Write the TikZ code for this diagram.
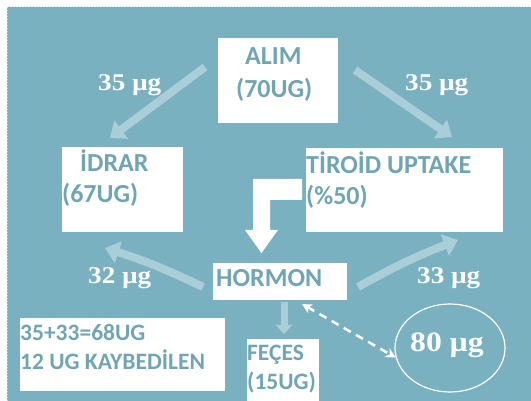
\documentclass[tikz,border=0pt]{standalone}
\usepackage{fontspec}
\setmainfont{Carlito}
\newfontfamily\labfont[FakeStretch=1.13]{Liberation Serif}
\usetikzlibrary{arrows.meta,shapes.geometric}
\definecolor{bg}{RGB}{122,177,192}
\definecolor{txt}{RGB}{112,165,180}
\definecolor{pale}{RGB}{170,206,216}
\definecolor{edge}{RGB}{200,222,228}
\begin{document}
\begin{tikzpicture}[x=1pt,y=-1pt,
  box/.style={fill=white, draw=none, inner sep=0pt, anchor=north west},
  btxt/.style={anchor=base west, inner sep=0pt, text=txt, font=\fontsize{26}{26}\selectfont\bfseries},
  stxt/.style={btxt, font=\fontsize{23.5}{23.5}\selectfont\bfseries},
  lab/.style={anchor=base west, inner sep=0pt, text=white, font=\labfont\fontsize{24}{24}\selectfont\bfseries},
  flow/.style={draw=pale, line width=8pt, -{Triangle[length=14pt,width=22pt]}},
  dashlink/.style={draw=white, line width=2.5pt, dash pattern=on 8pt off 6pt,
    {Stealth[length=10pt,width=10pt]}-{Stealth[length=10pt,width=10pt]}},
]
\useasboundingbox (0,0) rectangle (531,401);
\fill[bg] (7,7) rectangle (531,401);
\draw[edge, line width=1pt, dotted] (7,401) -- (7,7) -- (531,7);

% boxes
\node[box, minimum width=120pt, minimum height=85pt] (alim) at (218,38) {};
\node[box, minimum width=121pt, minimum height=85pt] (idrar) at (62,147) {};
\node[box, minimum width=197pt, minimum height=84pt] (tiroid) at (306,148) {};
\node[box, minimum width=134pt, minimum height=37pt] (hormon) at (213,263) {};
\node[box, minimum width=72pt, minimum height=62pt] (feces) at (247,339) {};
\node[box, minimum width=205pt, minimum height=73pt] (lost) at (20,318) {};
\node[ellipse, draw=white, line width=1.2pt, minimum width=110pt, minimum height=88pt, inner sep=0pt] (ell) at (450,348) {};

% box texts
\node[btxt] (t1) at (245,65) {ALIM};
\node[btxt] (t2) at (236,98) {(70UG)};
\node[btxt] (t3) at (80,172) {İDRAR};
\node[btxt] (t4) at (62,203) {(67UG)};
\node[btxt] (t5) at (306,174) {TİROİD UPTAKE};
\node[btxt] (t6) at (306,205) {(\%50)};
\node[btxt] (t7) at (216,287) {HORMON};
\node[stxt] (t8) at (20,341) {35+33=68UG};
\node[stxt] (t9) at (20,370) {12 UG KAYBEDİLEN};
\node[stxt] (t10) at (247,360) {FEÇES};
\node[stxt] (t11) at (247,389) {(15UG)};

% labels
\node[lab] (l1) at (98,91) {35 µg};
\node[lab] (l2) at (405,91) {35 µg};
\node[lab] (l3) at (88,284) {32 µg};
\node[lab] (l4) at (417,284) {33 µg};
\node[lab, font=\labfont\fontsize{28}{28}\selectfont\bfseries] (l5) at (410,352) {80 µg};

% flow arrows
\coordinate (a1s) at (205,67);  \coordinate (a1e) at (110,138);
\coordinate (a2s) at (355,70);  \coordinate (a2e) at (452,137);
\coordinate (a3s) at (203,287); \coordinate (a3e) at (105,248);
\coordinate (a4s) at (358,287); \coordinate (a4e) at (458,240);
\coordinate (fs) at (284,302);  \coordinate (fe) at (284,334);
\draw[flow] (a1s) -- (a1e);
\draw[flow] (a2s) -- (a2e);
\draw[flow] (a3s) to[bend right=4] (a3e);
\draw[flow] (a4s) to[bend left=4] (a4e);
\draw[draw=pale, line width=7pt, -{Triangle[length=9pt,width=16pt]}] (fs) -- (fe);

% bent white arrow
\fill[white] (302,179) -- (253,179) -- (253,230) -- (245,230) -- (261.5,253)
  -- (278,230) -- (270,230) -- (270,200) -- (302,200) -- cycle;

% dashed link
\coordinate (ds) at (302,304);
\draw[dashlink] (ds) -- (ell.190);
\end{tikzpicture}
\end{document}
